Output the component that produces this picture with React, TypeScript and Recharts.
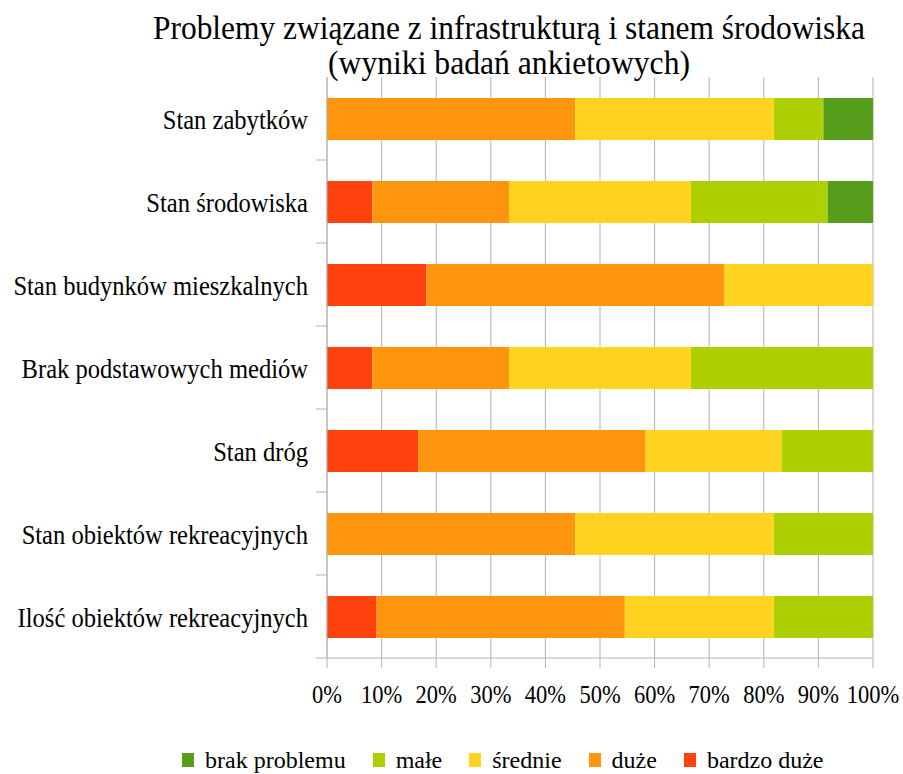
import { BarChart, Bar, XAxis, YAxis, CartesianGrid, Legend, Customized } from 'recharts'

const categories = [
  'Stan zabytków',
  'Stan środowiska',
  'Stan budynków mieszkalnych',
  'Brak podstawowych mediów',
  'Stan dróg',
  'Stan obiektów rekreacyjnych',
  'Ilość obiektów rekreacyjnych',
]

// percent of answers per category
const bardzoDuze = [0, 8.3, 18.2, 8.3, 16.7, 0, 9.1]
const duze = [45.5, 25.0, 54.5, 25.0, 41.7, 45.5, 45.5]
const srednie = [36.4, 33.3, 27.3, 33.3, 25.0, 36.4, 27.3]
const male = [9.1, 25.0, 0, 33.3, 16.7, 18.2, 18.2]
const brakProblemu = [9.1, 8.3, 0, 0, 0, 0, 0]

const xTicks = [0, 0.1, 0.2, 0.3, 0.4, 0.5, 0.6, 0.7, 0.8, 0.9, 1]

const series = [
  { key: 'bardzoDuze', name: 'bardzo duże', color: '#ff420e' },
  { key: 'duze', name: 'duże', color: '#ff950e' },
  { key: 'srednie', name: 'średnie', color: '#ffd320' },
  { key: 'male', name: 'małe', color: '#aecf00' },
  { key: 'brakProblemu', name: 'brak problemu', color: '#579d1c' },
]

const data = categories.map((name, i) => ({
  name,
  bardzoDuze: bardzoDuze[i],
  duze: duze[i],
  srednie: srednie[i],
  male: male[i],
  brakProblemu: brakProblemu[i],
}))

const FONT = '"Liberation Serif", "Times New Roman", serif'
const GRID = '#b3b3b3'
const W = 903
const H = 774
const PLOT_TOP = 77
const PLOT_LEFT = 327
const PLOT_BOTTOM = 658
const BAND = (PLOT_BOTTOM - PLOT_TOP) / categories.length
const SQUEEZE = 0.91

const YTick = (props: any) => {
  const { y, payload } = props
  const edge = y + BAND / 2
  return (
    <g>
      <line x1={PLOT_LEFT - 11} x2={PLOT_LEFT} y1={edge} y2={edge} stroke={GRID} />
      <g transform={`translate(${PLOT_LEFT - 19},${y + 10}) scale(${SQUEEZE},1)`}>
        <text x={0} y={0} textAnchor="end" fontSize={27} fontFamily={FONT} fill="#000">
          {payload.value}
        </text>
      </g>
    </g>
  )
}

const XTick = (props: any) => {
  const { x, payload } = props
  return (
    <g transform={`translate(${x},${PLOT_BOTTOM + 45}) scale(0.9,1)`}>
      <text x={0} y={0} textAnchor="middle" fontSize={25} fontFamily={FONT} fill="#000">
        {`${Math.round(payload.value * 100)}%`}
      </text>
    </g>
  )
}

const Title = () => (
  <g fontFamily={FONT} fill="#000">
    <text x={509} y={39} textAnchor="middle" fontSize={33} textLength={712} lengthAdjust="spacingAndGlyphs">
      Problemy związane z infrastrukturą i stanem środowiska
    </text>
    <text x={509} y={74} textAnchor="middle" fontSize={33} textLength={362} lengthAdjust="spacingAndGlyphs">
      (wyniki badań ankietowych)
    </text>
  </g>
)

const LegendBox = () => (
  <div
    style={{
      display: 'flex',
      alignItems: 'flex-end',
      width: W,
      height: 30,
      boxSizing: 'border-box',
      paddingBottom: 2,
      paddingLeft: 182,
      fontFamily: FONT,
      fontSize: 24,
      lineHeight: '24px',
      color: '#000',
      whiteSpace: 'nowrap',
    }}
  >
    {[...series].reverse().map((s) => (
      <div key={s.key} style={{ display: 'flex', alignItems: 'center', flexShrink: 0, marginRight: 27 }}>
        <span style={{ width: 12, height: 14, background: s.color, marginRight: 11, display: 'inline-block', flexShrink: 0 }} />
        <span style={{ whiteSpace: 'nowrap' }}>{s.name}</span>
      </div>
    ))}
  </div>
)

export default function App() {
  return (
    <div style={{ position: 'absolute', left: 0, top: 0, background: '#fff' }}>
      <BarChart
        width={W}
        height={H}
        data={data}
        layout="vertical"
        stackOffset="expand"
        margin={{ top: PLOT_TOP, right: W - 873, bottom: 0, left: 0 }}
      >
        <CartesianGrid horizontal={false} stroke={GRID} />
        <XAxis
          type="number"
          domain={[0, 1]}
          ticks={xTicks}
          height={H - PLOT_BOTTOM - 30}
          tickSize={10}
          tickLine={{ stroke: GRID }}
          axisLine={{ stroke: GRID }}
          tick={<XTick />}
          interval={0}
        />
        <YAxis
          type="category"
          dataKey="name"
          width={PLOT_LEFT}
          tickLine={false}
          axisLine={{ stroke: GRID }}
          tick={<YTick />}
          interval={0}
        />
        {series.map((s) => (
          <Bar key={s.key} dataKey={s.key} name={s.name} stackId="a" fill={s.color} barSize={42} isAnimationActive={false} />
        ))}
        <Legend
          verticalAlign="bottom"
          height={30}
          wrapperStyle={{ left: 0, width: W, overflow: 'visible' }}
          content={<LegendBox />}
        />
        <Customized component={Title} />
      </BarChart>
    </div>
  )
}
